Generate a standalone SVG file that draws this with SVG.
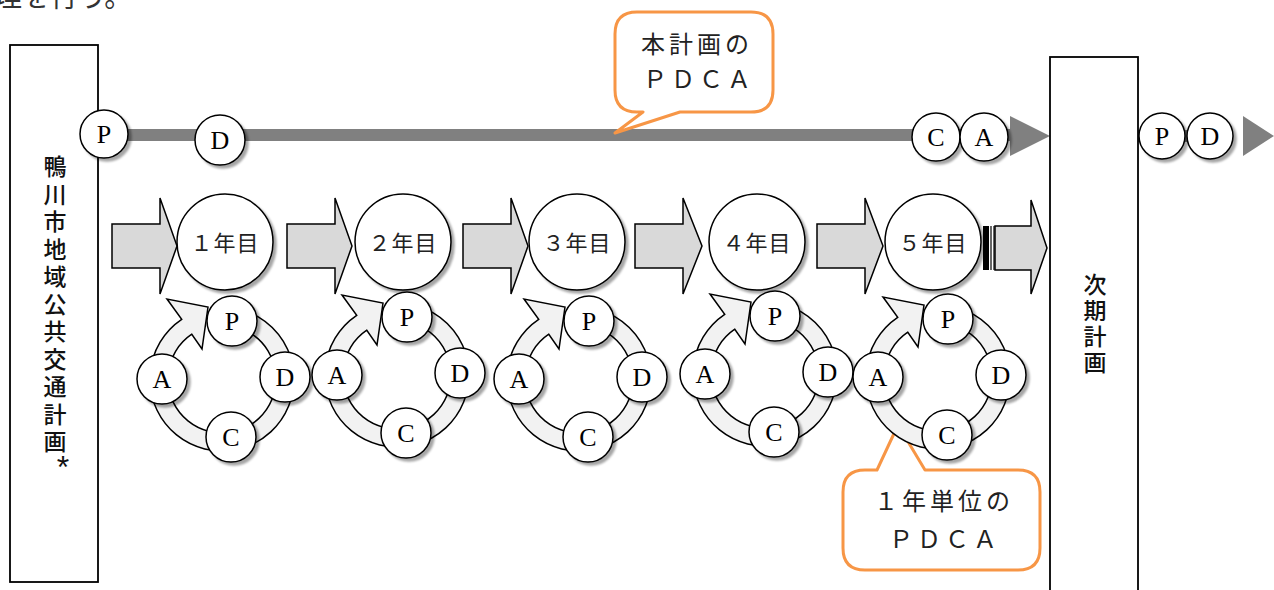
<svg xmlns="http://www.w3.org/2000/svg" width="1274" height="590" viewBox="0 0 1274 590">
<style>
.box{fill:#fff;stroke:#000;stroke-width:1.8}
.nd{fill:#fff;stroke:#000;stroke-width:1.5;filter:url(#sh)}
.ring{fill:#f2f2f2;stroke:#000;stroke-width:1.5}
.blk{fill:#d9d9d9;stroke:#000;stroke-width:1.5}
.bar{fill:#808080}
.call{fill:#fff;stroke:#F79646;stroke-width:3;stroke-linejoin:round}
.lt{font-family:"Liberation Serif",serif;font-size:26px;text-anchor:middle;fill:#000}
.vt{font-family:"Noto Sans CJK JP",sans-serif;font-size:23px;font-weight:500;fill:#111;writing-mode:vertical-rl;text-orientation:upright}
.yr{font-family:"Noto Sans CJK JP",sans-serif;font-size:22px;text-anchor:middle;letter-spacing:1px;fill:#222}
.cl{font-family:"Noto Sans CJK JP",sans-serif;font-size:24px;text-anchor:middle;letter-spacing:4px;fill:#222}
</style>
<defs>
<filter id="sh" x="-30%" y="-30%" width="170%" height="170%">
<feDropShadow dx="3" dy="3" stdDeviation="1" flood-color="#000" flood-opacity="0.35"/>
</filter>
</defs>
<rect width="1274" height="590" fill="#fff"/>

<text x="-6" y="7" font-family="Noto Sans CJK JP, sans-serif" font-size="28" fill="#333">理を行う。</text>

<g id="connectors">
  <rect class="bar" x="98" y="129" width="914" height="12"/>
  <polygon class="bar" points="1010,116 1050,136 1010,156"/>
  <rect class="bar" x="1132" y="130" width="100" height="12"/>
  <polygon class="bar" points="1243,116 1274,136 1243,156"/>
  <path class="blk" d="M112,224 H160 V198 L177,246 L160,294 V268 H112 Z"/>
  <path class="blk" d="M287,224 H335 V198 L352,246 L335,294 V268 H287 Z"/>
  <path class="blk" d="M463,224 H511 V198 L528,246 L511,294 V268 H463 Z"/>
  <path class="blk" d="M635,224 H683 V198 L702,246 L683,294 V268 H635 Z"/>
  <path class="blk" d="M817,224 H865 V198 L883,246 L865,294 V268 H817 Z"/>
  <path class="blk" d="M995,226 H1031 V200 L1047,248 L1031,294 V270 H995 Z"/>
  <rect x="983" y="226" width="6" height="44" fill="#000"/>
  <line x1="991" y1="226" x2="991" y2="270" stroke="#000" stroke-width="1.2"/>
  <line x1="994" y1="226" x2="994" y2="270" stroke="#000" stroke-width="1.2"/>
</g>

<g id="plan-box">
  <rect class="box" x="10" y="45" width="88" height="537"/>
  <text class="vt" x="55" y="155" letter-spacing="4.5">鴨川市地域公共交通計画</text>
  <text x="63" y="478" font-family="Liberation Sans, sans-serif" font-size="32" text-anchor="middle" fill="#111">*</text>
</g>

<g id="next-plan">
  <rect class="box" x="1050" y="57" width="88" height="545"/>
  <text class="vt" x="1095" y="273" letter-spacing="3">次期計画</text>
</g>

<g id="main-P"><circle class="nd" cx="104" cy="134" r="24"/><text class="lt" x="104" y="143">P</text></g>
<g id="main-D"><circle class="nd" cx="220" cy="140" r="25"/><text class="lt" x="220" y="149">D</text></g>
<g id="main-C"><circle class="nd" cx="936" cy="137" r="24"/><text class="lt" x="936" y="146">C</text></g>
<g id="main-A"><circle class="nd" cx="984" cy="137" r="24"/><text class="lt" x="984" y="146">A</text></g>
<g id="next-P"><circle class="nd" cx="1162" cy="136" r="23"/><text class="lt" x="1162" y="145">P</text></g>
<g id="next-D"><circle class="nd" cx="1210" cy="136" r="23"/><text class="lt" x="1210" y="145">D</text></g>

<g id="callout-plan">
  <path class="call" d="M637,12 H751 Q773,12 773,34 V90 Q773,112 751,112 H680 L615,133 L643,112 H637 Q615,112 615,90 V34 Q615,12 637,12 Z"/>
  <text class="cl" x="697" y="53">本計画の</text>
  <text class="cl" x="699" y="88">ＰＤＣＡ</text>
</g>

<g id="year1"><circle class="nd" cx="225" cy="242" r="48"/><text class="yr" x="225" y="251">１年目</text></g>
<g id="year2"><circle class="nd" cx="403" cy="242" r="48"/><text class="yr" x="403" y="251">２年目</text></g>
<g id="year3"><circle class="nd" cx="577" cy="242" r="48"/><text class="yr" x="577" y="251">３年目</text></g>
<g id="year4"><circle class="nd" cx="757" cy="242" r="48"/><text class="yr" x="757" y="251">４年目</text></g>
<g id="year5"><circle class="nd" cx="933" cy="242" r="48"/><text class="yr" x="933" y="251">５年目</text></g>

<g id="callout-year">
  <path class="call" d="M865,470 H877 L898,425 L925,470 H1018 Q1040,470 1040,492 V548 Q1040,570 1018,570 H865 Q843,570 843,548 V492 Q843,470 865,470 Z"/>
  <text class="cl" x="944" y="510">１年単位の</text>
  <text class="cl" x="945" y="548">ＰＤＣＡ</text>
</g>

<g id="cycle1" transform="translate(222,379)">
  <path class="ring" d="M-30.2,-44.8 A54,54 0 1 0 4.7,-53.8 L6.3,-71.7 A72,72 0 1 1 -40.3,-59.7 L-55,-80 L-14,-72 L-20,-30 Z"/>
  <circle class="nd" cx="10" cy="-58" r="25"/><text class="lt" x="10" y="-49">P</text>
  <circle class="nd" cx="63" cy="-2" r="25"/><text class="lt" x="63" y="7">D</text>
  <circle class="nd" cx="9" cy="58" r="25"/><text class="lt" x="9" y="67">C</text>
  <circle class="nd" cx="-60" cy="0" r="25"/><text class="lt" x="-60" y="9">A</text>
</g>
<g id="cycle2" transform="translate(397,375)">
  <path class="ring" d="M-30.2,-44.8 A54,54 0 1 0 4.7,-53.8 L6.3,-71.7 A72,72 0 1 1 -40.3,-59.7 L-55,-80 L-14,-72 L-20,-30 Z"/>
  <circle class="nd" cx="10" cy="-58" r="25"/><text class="lt" x="10" y="-49">P</text>
  <circle class="nd" cx="63" cy="-2" r="25"/><text class="lt" x="63" y="7">D</text>
  <circle class="nd" cx="9" cy="58" r="25"/><text class="lt" x="9" y="67">C</text>
  <circle class="nd" cx="-60" cy="0" r="25"/><text class="lt" x="-60" y="9">A</text>
</g>
<g id="cycle3" transform="translate(579,379)">
  <path class="ring" d="M-30.2,-44.8 A54,54 0 1 0 4.7,-53.8 L6.3,-71.7 A72,72 0 1 1 -40.3,-59.7 L-55,-80 L-14,-72 L-20,-30 Z"/>
  <circle class="nd" cx="10" cy="-58" r="25"/><text class="lt" x="10" y="-49">P</text>
  <circle class="nd" cx="63" cy="-2" r="25"/><text class="lt" x="63" y="7">D</text>
  <circle class="nd" cx="9" cy="58" r="25"/><text class="lt" x="9" y="67">C</text>
  <circle class="nd" cx="-60" cy="0" r="25"/><text class="lt" x="-60" y="9">A</text>
</g>
<g id="cycle4" transform="translate(765,374)">
  <path class="ring" d="M-30.2,-44.8 A54,54 0 1 0 4.7,-53.8 L6.3,-71.7 A72,72 0 1 1 -40.3,-59.7 L-55,-80 L-14,-72 L-20,-30 Z"/>
  <circle class="nd" cx="10" cy="-58" r="25"/><text class="lt" x="10" y="-49">P</text>
  <circle class="nd" cx="63" cy="-2" r="25"/><text class="lt" x="63" y="7">D</text>
  <circle class="nd" cx="9" cy="58" r="25"/><text class="lt" x="9" y="67">C</text>
  <circle class="nd" cx="-60" cy="0" r="25"/><text class="lt" x="-60" y="9">A</text>
</g>
<g id="cycle5" transform="translate(938,377)">
  <path class="ring" d="M-30.2,-44.8 A54,54 0 1 0 4.7,-53.8 L6.3,-71.7 A72,72 0 1 1 -40.3,-59.7 L-55,-80 L-14,-72 L-20,-30 Z"/>
  <circle class="nd" cx="10" cy="-58" r="25"/><text class="lt" x="10" y="-49">P</text>
  <circle class="nd" cx="63" cy="-2" r="25"/><text class="lt" x="63" y="7">D</text>
  <circle class="nd" cx="9" cy="58" r="25"/><text class="lt" x="9" y="67">C</text>
  <circle class="nd" cx="-60" cy="0" r="25"/><text class="lt" x="-60" y="9">A</text>
</g>
</svg>
